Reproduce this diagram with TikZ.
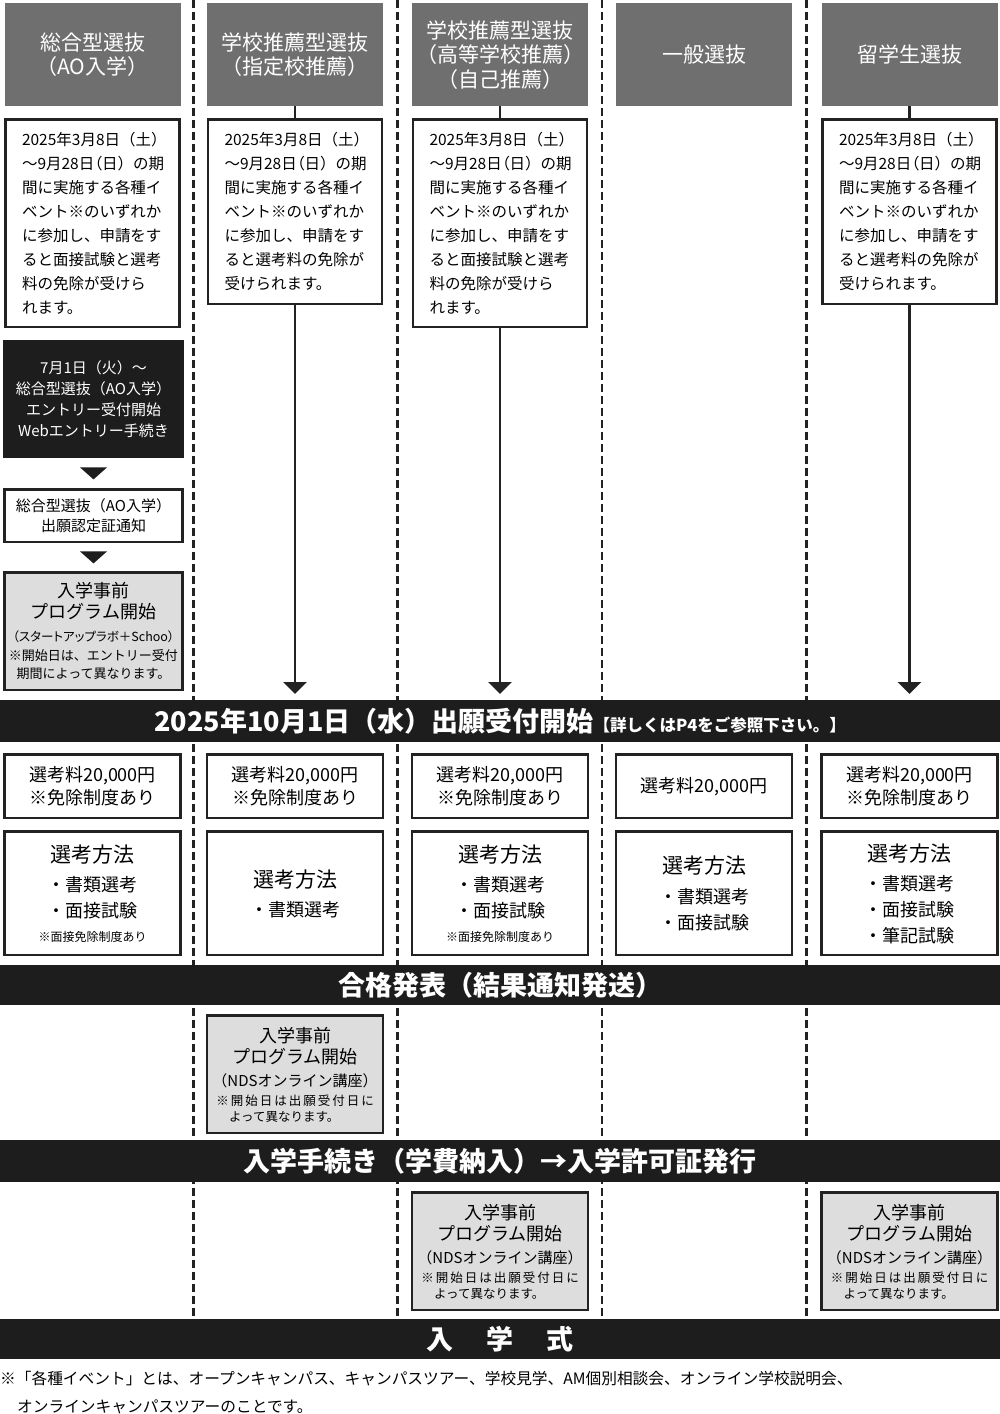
\documentclass[tikz,border=0pt]{standalone}
\usepackage{fontspec}
\setmainfont{Noto Sans CJK JP}
\usetikzlibrary{arrows.meta,calc,positioning}
\definecolor{headgray}{HTML}{6F6F6F}
\definecolor{bandblack}{HTML}{1D1D1D}
\definecolor{edgeblack}{HTML}{222222}
\definecolor{preprog}{HTML}{DDDDDD}
\newcommand\fsz[2]{\fontsize{#1pt}{#2pt}\selectfont}
\newcommand\propw{\addfontfeatures{RawFeature=+palt}}
\newcommand\spaced{\addfontfeatures{LetterSpace=16}}
\newcommand\lpar{{\propw （}}
\tikzset{
  colhead/.style={fill=headgray,text=white,anchor=north,inner sep=0pt,minimum width=176pt,minimum height=103pt,align=center,font=\fsz{21}{24.5}},
  infobox/.style={draw=edgeblack,line width=2.8pt,fill=white,anchor=north,minimum width=174pt,text width=141pt,inner xsep=16.5pt,inner ysep=0pt,align=left,font=\fsz{15.5}{24}},
  entrybox/.style={fill=bandblack,text=white,anchor=north,inner sep=0pt,minimum width=181pt,minimum height=118pt,align=center,font=\fsz{15}{21}},
  notebox/.style={draw=edgeblack,line width=2.8pt,fill=white,anchor=north,inner sep=0pt,minimum width=176pt,align=center},
  progbox/.style={notebox,fill=preprog,minimum height=117.2pt,font=\fsz{18}{21.5}},
  feebox/.style={notebox,minimum height=63.2pt,font=\fsz{18}{23}},
  methbox/.style={notebox,minimum height=123.2pt,font=\fsz{18}{26}},
  band/.style={fill=bandblack,text=white,anchor=north west,inner sep=0pt,minimum width=1000pt,font=\bfseries\fsz{27}{30}},
  link/.style={draw=edgeblack,line width=2.6pt},
  flow/.style={link,-{Triangle[width=23pt,length=12pt]},shorten >=6pt},
  colsep/.style={draw=edgeblack,line width=2.6pt,dash pattern=on 7.5pt off 4.5pt}
}
\begin{document}
\begin{tikzpicture}[x=1pt,y=-1pt]
\fill[white] (0,0) rectangle (1000,1414);
\useasboundingbox (0,0) rectangle (1000,1414);
\foreach \x in {193.5,397.5,602,806.5}
  \draw[colsep] (\x,0) -- (\x,1319);

% column heads
\node[colhead] (h1) at (92.5,3) {総合型選抜\\（AO入学）};
\node[colhead] (h2) at (295,3) {学校推薦型選抜\\（指定校推薦）};
\node[colhead] (h3) at (500,3) {学校推薦型選抜\\（高等学校推薦）\\（自己推薦）};
\node[colhead] (h4) at (704,3) {一般選抜};
\node[colhead] (h5) at (909.5,3) {留学生選抜};

\node[infobox,minimum height=207.2pt] (d1) at (92.5,118.4) {2025年3月8日（土）\\～9月28日\lpar 日）の期\\間に実施する各種イ\\ベント※のいずれか\\に参加し、申請をす\\ると面接試験と選考\\料の免除が受けら\\れます。};
\node[infobox,minimum height=184.2pt] (d2) at (295,118.4) {2025年3月8日（土）\\～9月28日\lpar 日）の期\\間に実施する各種イ\\ベント※のいずれか\\に参加し、申請をす\\ると選考料の免除が\\受けられます。};
\node[infobox,minimum height=207.2pt] (d3) at (500,118.4) {2025年3月8日（土）\\～9月28日\lpar 日）の期\\間に実施する各種イ\\ベント※のいずれか\\に参加し、申請をす\\ると面接試験と選考\\料の免除が受けら\\れます。};
\node[infobox,minimum height=184.2pt] (d5) at (909.5,118.4) {2025年3月8日（土）\\～9月28日\lpar 日）の期\\間に実施する各種イ\\ベント※のいずれか\\に参加し、申請をす\\ると選考料の免除が\\受けられます。};

% AO entry steps
\node[entrybox] (entry) at (93.5,340) {7月1日（火）～\\総合型選抜（AO入学）\\エントリー受付開始\\Webエントリー手続き};
\node[notebox,minimum width=178pt,minimum height=52.2pt,font=\fsz{15}{20}] (cert) at (93.5,488.4) {総合型選抜（AO入学）\\出願認定証通知};
\node[progbox,minimum width=178pt,font=\fsz{18}{21}] (prog1) at (93.5,571.4) {入学事前\\プログラム開始\\[2pt]{\fsz{12.5}{15}\propw（スタートアップラボ＋Schoo）}\\[-2pt]{\fsz{13}{15}※開始日は、エントリー受付}\\[-3pt]{\fsz{13}{15}期間によって異なります。}};
\fill[bandblack] ($(entry.south)!.5!(cert.north)$) ++(-13.5,-6) -- ++(27,0) -- ++(-13.5,12) -- cycle;
\fill[bandblack] ($(cert.south)!.5!(prog1.north)$) ++(-13.5,-6) -- ++(27,0) -- ++(-13.5,12) -- cycle;

% bands
\node[band,minimum height=42pt] (apply) at (0,700) {2025年10月1日（水）出願受付開始{\fsz{16.5}{20}【詳しくはP4をご参照下さい。】}};
\node[band,minimum height=40pt] (pass) at (0,965) {合格発表（結果通知発送）};
\node[band,minimum height=42pt] (enrol) at (0,1140) {入学手続き（学費納入）→入学許可証発行};
\node[band,minimum height=40pt] (ceremony) at (0,1319) {入\hspace{33pt}学\hspace{33pt}式};

\draw[link] (h2) -- (d2);
\draw[link] (h3) -- (d3);
\draw[link] (h5) -- (d5);
\draw[flow] (d2) -- (d2 |- apply.north);
\draw[flow] (d3) -- (d3 |- apply.north);
\draw[flow] (d5) -- (d5 |- apply.north);

% fees
\node[feebox] (fee1) at (92.5,753.4) {選考料20,000円\\※免除制度あり};
\node[feebox] (fee2) at (295,753.4) {選考料20,000円\\※免除制度あり};
\node[feebox] (fee3) at (500,753.4) {選考料20,000円\\※免除制度あり};
\node[feebox] (fee4) at (704,753.4) {選考料20,000円};
\node[feebox] (fee5) at (909.5,753.4) {選考料20,000円\\※免除制度あり};

% methods
\node[methbox] (meth1) at (92.5,830.4) {{\fsz{21}{26}選考方法}\\[3pt]・書類選考\\・面接試験\\[-2pt]{\fsz{12}{15}※面接免除制度あり}};
\node[methbox] (meth2) at (295,830.4) {{\fsz{21}{26}選考方法}\\[3pt]・書類選考};
\node[methbox] (meth3) at (500,830.4) {{\fsz{21}{26}選考方法}\\[3pt]・書類選考\\・面接試験\\[-2pt]{\fsz{12}{15}※面接免除制度あり}};
\node[methbox] (meth4) at (704,830.4) {{\fsz{21}{26}選考方法}\\[4pt]・書類選考\\・面接試験};
\node[methbox] (meth5) at (909.5,830.4) {{\fsz{21}{26}選考方法}\\[3pt]・書類選考\\・面接試験\\・筆記試験};

% pre-entrance programmes
\node[progbox] (prog2) at (295,1014.4) {入学事前\\プログラム開始\\[1pt]{\fsz{15}{18}（NDSオンライン講座）}\\[-2pt]{\fsz{12.5}{15}\spaced ※開始日は出願受付日に}\\[-6pt]{\fsz{12.5}{15}\makebox[158pt][l]{\hspace{13pt}よって異なります。}}};
\node[progbox] (prog3) at (500,1191.4) {入学事前\\プログラム開始\\[1pt]{\fsz{15}{18}（NDSオンライン講座）}\\[-2pt]{\fsz{12.5}{15}\spaced ※開始日は出願受付日に}\\[-6pt]{\fsz{12.5}{15}\makebox[158pt][l]{\hspace{13pt}よって異なります。}}};
\node[progbox] (prog5) at (909.5,1191.4) {入学事前\\プログラム開始\\[1pt]{\fsz{15}{18}（NDSオンライン講座）}\\[-2pt]{\fsz{12.5}{15}\spaced ※開始日は出願受付日に}\\[-6pt]{\fsz{12.5}{15}\makebox[158pt][l]{\hspace{13pt}よって異なります。}}};

\node[anchor=north west,inner sep=0pt,align=left,font=\fsz{15.7}{28}] (foot) at (0,1371) {※「各種イベント」とは、オープンキャンパス、キャンパスツアー、学校見学、AM個別相談会、オンライン学校説明会、\\\hspace*{17pt}オンラインキャンパスツアーのことです。};
\end{tikzpicture}
\end{document}
